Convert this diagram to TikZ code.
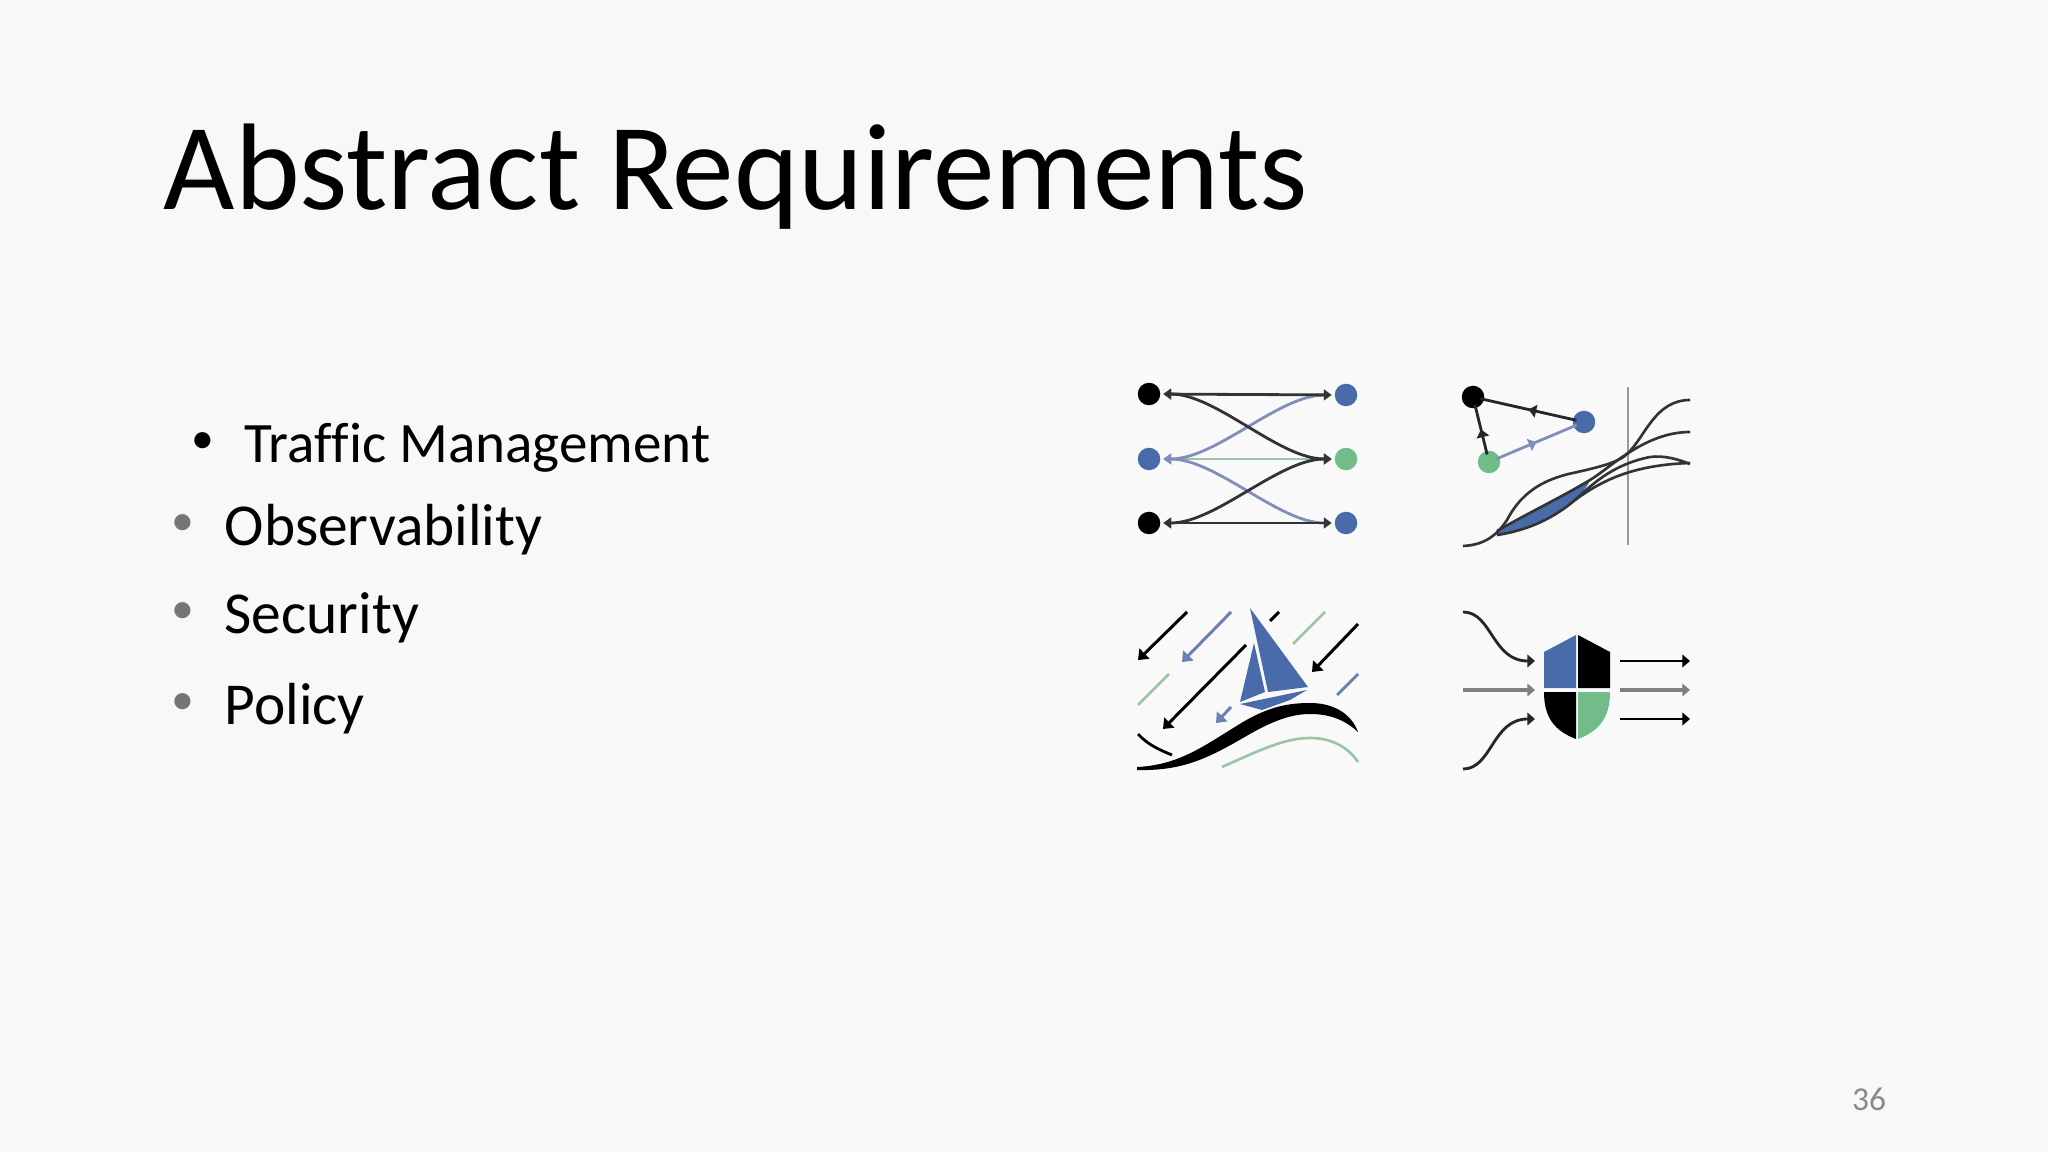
\documentclass[tikz,border=0pt]{standalone}
\usepackage{fontspec}
\setmainfont[Ligatures=NoCommon]{Carlito}
\usepackage{tikz}
\usetikzlibrary{arrows.meta,decorations.markings}
\definecolor{slidebg}{HTML}{F8F8F8}
\definecolor{patchbg}{HTML}{F9F9F9}
\definecolor{istioblue}{HTML}{4A6BAA}
\definecolor{istiogreen}{HTML}{72BC8A}
\definecolor{linkblue}{HTML}{7F8FB8}
\definecolor{linkgreen}{HTML}{9CC4A6}
\definecolor{bulletgray}{HTML}{757575}
\definecolor{pagegray}{HTML}{8A8A8A}
\tikzset{
  dot/.style={circle,fill=#1,minimum size=6.4pt,inner sep=0pt,outer sep=0.9pt},
  flow/.style={line width=0.8pt,{Triangle[length=2.2pt,width=3pt]}-{Triangle[length=2.2pt,width=3pt]}},
  linkline/.style={line width=0.8pt,shorten >=-1pt,shorten <=-1pt,postaction={decorate},decoration={markings,
    mark=at position 0.5 with {\arrow{Triangle[length=2.2pt,width=3.6pt]}}}},
  gust/.style={line width=0.85pt,-{Triangle[length=2.6pt,width=4pt]}},
  gate/.style={line width=0.8pt,-{Triangle[length=2.2pt,width=3.6pt]}},
  curveline/.style={black!80,line width=0.75pt},
  bodyline/.style={anchor=base west,font=\fontsize{16.9}{20}\selectfont,text=black,inner sep=0pt},
  bulletmark/.style={anchor=center,font=\fontsize{13}{15}\selectfont,inner sep=0pt},
}
\begin{document}
\begin{tikzpicture}[x=0.01cm,y=-0.01cm]
  \fill[slidebg] (0,0) rectangle (2048,1152);
  \useasboundingbox (0,0) rectangle (2048,1152);
  \fill[patchbg] (1057,335) rectangle (1776,830);

  % Title and list
  \node[anchor=base west,inner sep=0pt,font=\fontsize{35.05}{40}\selectfont] (title) at (163,209.5) {Abstract Requirements};
  \node[bulletmark,text=black] (b1) at (203,443) {•};
  \node[bodyline,font=\fontsize{16.25}{20}\selectfont] (traffic) at (244,462.5) {Traffic Management};
  \node[bulletmark,text=bulletgray] (b2) at (183,525.5) {•};
  \node[bodyline] (observ) at (224,545.5) {Observability};
  \node[bulletmark,text=bulletgray] (b3) at (183,613.5) {•};
  \node[bodyline] (security) at (224,633.5) {Security};
  \node[bulletmark,text=bulletgray] (b4) at (183,704.5) {•};
  \node[bodyline] (policy) at (224,725) {Policy};
  \node[anchor=base,text=pagegray,inner sep=0pt,font=\fontsize{9.5}{12}\selectfont] (pagenum) at (1869,1110) {36};

  % Traffic routing
  \node[dot=black] (lt) at (1149,394) {};
  \node[dot=istioblue] (lm) at (1149,459) {};
  \node[dot=black] (lb) at (1149,523) {};
  \node[dot=istioblue] (rt) at (1346,395) {};
  \node[dot=istiogreen] (rm) at (1346,459) {};
  \node[dot=istioblue] (rb) at (1346,523) {};
  \draw[flow,linkgreen] (lm) -- (rm);
  \draw[flow,linkblue] (lm) to[out=0,in=180,looseness=0.75] (rt);
  \draw[flow,linkblue] (lm) to[out=0,in=180,looseness=0.75] (rb);
  \draw[flow,black!80] (lt) -- (rt);
  \draw[flow,black!80] (lb) -- (rb);
  \draw[flow,black!80] (lt) to[out=0,in=180,looseness=0.75] (rm);
  \draw[flow,black!80] (lb) to[out=0,in=180,looseness=0.75] (rm);

  % Metrics
  \node[dot=black,outer sep=0pt] (mk) at (1473,397) {};
  \node[dot=istioblue,outer sep=0pt] (mb) at (1584,422) {};
  \node[dot=istiogreen,outer sep=0pt] (mg) at (1489,462) {};
  \draw[linkline,black!85] (mb) -- (mk);
  \draw[linkline,black!85] (mg) -- (mk);
  \draw[linkline,linkblue] (mg) -- (mb);
  \coordinate (axistop) at (1628,387);
  \coordinate (axisbot) at (1628,545);
  \draw[gray!80,line width=0.5pt] (axistop) -- (axisbot);
  \fill[istioblue] (1497,531) .. controls (1530,512) and (1560,498) .. (1590,480)
    .. controls (1587,487) and (1582,494) .. (1575,500)
    .. controls (1555,517) and (1530,530) .. (1497,535) -- cycle;
  \draw[curveline] (1463,546) .. controls (1485,545) and (1497,535) .. (1507,520)
    .. controls (1520,495) and (1540,480) .. (1573,473)
    .. controls (1600,467) and (1620,462) .. (1628,453)
    .. controls (1645,437) and (1655,400) .. (1690,400);
  \draw[curveline] (1497,531) .. controls (1530,512) and (1560,498) .. (1590,480)
    .. controls (1610,468) and (1645,432) .. (1690,432);
  \draw[curveline] (1497,535) .. controls (1530,530) and (1555,517) .. (1575,500)
    .. controls (1600,482) and (1630,465) .. (1690,463);
  \draw[curveline] (1575,500) .. controls (1590,487) and (1610,465) .. (1650,457)
    .. controls (1665,455) and (1680,460) .. (1690,464);

  % Sailboat in the wind
  \draw[gust,black] (1187,612) -- (1138,660);
  \draw[gust,linkblue!60!istioblue] (1231,612) -- (1182,662);
  \draw[black,line width=0.85pt] (1279,612) -- (1270,621);
  \draw[linkgreen,line width=0.75pt] (1325,612) -- (1293,644);
  \draw[gust,black] (1358,624) -- (1312,672);
  \draw[linkgreen,line width=0.75pt] (1169,674) -- (1138,705);
  \draw[gust,black] (1246,645) -- (1163,729);
  \draw[gust,linkblue!60!istioblue] (1231,707) -- (1216,723);
  \draw[linkblue!60!istioblue,line width=0.8pt] (1358,674) -- (1337,695);
  \fill[istioblue] (1250,608) -- (1308,687) -- (1268,692) -- cycle;
  \fill[istioblue] (1254,643) -- (1265,692) -- (1240,702) -- cycle;
  \fill[istioblue] (1240,704) -- (1307,690) -- (1290,700) -- (1262,710) -- cycle;
  \fill[black] (1137,767) .. controls (1180,765) and (1205,745) .. (1243,722)
    .. controls (1270,706) and (1290,703) .. (1310,703)
    .. controls (1335,703) and (1352,715) .. (1358,732)
    .. controls (1345,720) and (1330,714) .. (1310,714)
    .. controls (1290,714) and (1270,722) .. (1243,738)
    .. controls (1205,760) and (1180,771) .. (1137,770) -- cycle;
  \draw[black,line width=0.8pt] (1138,734) .. controls (1148,745) and (1160,750) .. (1172,755);
  \draw[linkgreen,line width=0.75pt] (1222,767) .. controls (1260,750) and (1285,738) .. (1310,738)
    .. controls (1335,738) and (1350,750) .. (1358,762);

  % Policy shield
  \fill[istioblue] (1576,635) -- (1576,688) -- (1544,688) -- (1544,652) -- cycle;
  \fill[black] (1578,635) -- (1610,652) -- (1610,688) -- (1578,688) -- cycle;
  \fill[black] (1544,692) -- (1576,692) -- (1576,739) .. controls (1555,731) and (1544,718) .. (1544,692) -- cycle;
  \fill[istiogreen] (1610,692) -- (1578,692) -- (1578,739) .. controls (1599,731) and (1610,718) .. (1610,692) -- cycle;
  \draw[gate,black!85] (1463,612) .. controls (1492,612) and (1492,661) .. (1535,661);
  \draw[gate,gray,line width=1pt] (1463,690) -- (1535,690);
  \draw[gate,black!85] (1463,769) .. controls (1492,769) and (1492,719) .. (1535,719);
  \draw[gate,black] (1620,661) -- (1690,661);
  \draw[gate,gray,line width=1pt] (1620,690) -- (1690,690);
  \draw[gate,black] (1620,719) -- (1690,719);
\end{tikzpicture}
\end{document}
